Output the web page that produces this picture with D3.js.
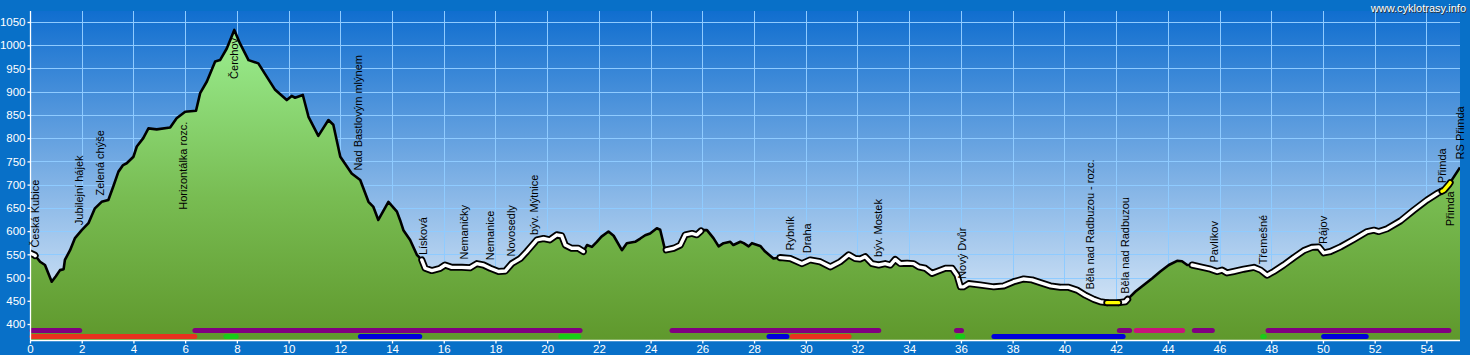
<!DOCTYPE html>
<html>
<head>
<meta charset="utf-8">
<script src="https://cdn.jsdelivr.net/npm/d3@7.9.0/dist/d3.min.js"></script>
<style>
  html, body { margin: 0; padding: 0; background: #0870c8; }
  svg { display: block; font-family: "Liberation Sans", Arial, sans-serif; }
</style>
</head>
<body>
<svg id="chart" width="1470" height="355"></svg>
<script>
// profile: distance (km) and elevation (m)
const profileKm = [0, 0.19, 0.39, 0.58, 0.84, 1.0, 1.16, 1.3, 1.35, 1.55, 1.74, 2.0, 2.26, 2.51, 2.77, 3.03, 3.22, 3.42, 3.6, 3.74,
  4.0, 4.13, 4.38, 4.58, 4.9, 5.42, 5.67, 6.0, 6.42, 6.58, 6.84, 7.16, 7.35, 7.61, 7.9, 8.12, 8.45, 8.83, 9.16, 9.48,
  9.93, 10.12, 10.25, 10.55, 10.77, 11.15, 11.54, 11.73, 12.0, 12.44, 12.77, 13.09, 13.28, 13.47, 13.86, 14.19, 14.31, 14.44, 14.7, 14.96,
  15.15, 15.28, 15.54, 15.86, 16.05, 16.31, 16.7, 17.02, 17.28, 17.54, 17.8, 18.12, 18.38, 18.63, 18.96, 19.21, 19.6, 19.86, 20.1, 20.37,
  20.56, 20.7, 20.95, 21.2, 21.4, 21.54, 21.73, 21.92, 22.1, 22.37, 22.57, 22.89, 23.08, 23.4, 23.6, 23.79, 23.98, 24.24, 24.37, 24.56,
  24.89, 25.15, 25.34, 25.6, 25.79, 25.98, 26.18, 26.43, 26.63, 26.82, 27.08, 27.2, 27.47, 27.6, 27.79, 27.92, 28.24, 28.43, 28.75, 29.01,
  29.4, 29.85, 30.17, 30.56, 30.95, 31.33, 31.66, 31.91, 32.1, 32.3, 32.56, 32.82, 33.07, 33.27, 33.46, 33.66, 33.92, 34.17, 34.37, 34.62,
  34.88, 35.07, 35.4, 35.66, 35.85, 35.98, 36.1, 36.3, 36.75, 37.27, 37.65, 38.04, 38.43, 38.75, 39.07, 39.46, 39.85, 40.17, 40.49, 40.81,
  41.14, 41.39, 41.64, 42.1, 42.36, 42.55, 42.75, 43.07, 43.39, 43.71, 44.04, 44.36, 44.55, 44.75, 44.94, 45.26, 45.65, 45.9, 46.1, 46.29,
  46.55, 46.94, 47.33, 47.59, 47.84, 48.1, 48.48, 48.87, 49.26, 49.58, 49.84, 50.03, 50.29, 50.68, 51.19, 51.71, 51.97, 52.16, 52.48, 53.0,
  53.51, 54.03, 54.42, 54.68, 54.88, 55.3];
const profileElev = [553, 548, 534, 527, 491, 503, 516, 518, 538, 559, 585, 602, 617, 649, 663, 667, 696, 728, 742, 746,
  760, 782, 800, 821, 819, 823, 843, 857, 859, 897, 922, 965, 968, 993, 1033, 1004, 968, 961, 932, 904,
  882, 891, 887, 893, 846, 805, 839, 829, 760, 724, 710, 663, 652, 624, 663, 642, 624, 602, 581, 549,
  538, 520, 515, 520, 527, 522, 522, 521, 530, 527, 520, 513, 514, 530, 541, 556, 581, 584, 581, 592,
  590, 570, 563, 563, 556, 570, 566, 577, 588, 599, 590, 559, 574, 577, 584, 591, 595, 606, 603, 559,
  563, 570, 592, 595, 592, 602, 602, 585, 567, 574, 577, 570, 577, 574, 567, 574, 568, 556, 541, 543,
  541, 530, 538, 534, 523, 534, 549, 541, 540, 545, 530, 527, 530, 527, 539, 530, 531, 530, 523, 520,
  509, 513, 520, 520, 505, 480, 480, 487, 484, 480, 482, 491, 497, 495, 489, 482, 479, 479, 473, 462,
  453, 448, 446, 446, 448, 459, 470, 484, 498, 513, 527, 536, 535, 527, 527, 523, 518, 513, 516, 510,
  513, 518, 522, 516, 505, 513, 527, 543, 558, 565, 566, 553, 556, 566, 582, 599, 602, 599, 605, 622,
  645, 667, 681, 688, 701, 737];

// surface sections along the route [from km, to km]
const whiteSections = [[0, 0.2], [15.15, 21.4], [24.6, 25.95], [29.0, 41.64], [42.1, 42.45], [44.94, 54.6]];
const yellowSections = [[41.64, 42.1], [54.6, 54.92]];

// place names
const placeNames = ["Česká Kubice", "Jubilejní hájek", "Zelená chýše", "Horizontálka rozc.", "Čerchov", "Nad Bastlovým mlýnem",
  "Lísková", "Nemaničky", "Nemanice", "Novosedly", "býv. Mýtnice", "Rybník", "Draha", "býv. Mostek", "Nový Dvůr",
  "Běla nad Radbuzou - rozc.", "Běla nad Radbuzou", "Pavlíkov", "Třemešné", "Rájov", "Přimda", "Přimda", "RS Přimda"];
const placeKm = [0.2, 1.9, 2.7, 5.9, 7.9, 12.7, 15.2, 16.8, 17.8, 18.6, 19.5, 29.4, 30.05, 32.8, 36.05,
  41.0, 42.36, 45.8, 47.7, 50.0, 54.6, 54.9, 55.3];
const placeSide = ["up", "up", "up", "down", "down", "up", "up", "up", "up", "up", "up", "up", "up", "up", "up",
  "up", "up", "up", "up", "up", "up", "down", "up"];

// route markings shown as strips under the profile
const markStart = [0, 6.3, 24.75, 35.75, 42.05, 42.7, 44.95, 47.8, 0, 7.5, 12.7, 20.45, 28.5, 29.4, 35.8, 37.2, 47.65, 49.95];
const markEnd = [2.0, 21.35, 32.9, 36.1, 42.6, 44.65, 45.8, 54.95, 6.45, 8.05, 15.15, 21.3, 29.35, 31.75, 36.15, 42.35, 47.75, 51.75];
const markType = ["purple", "purple", "purple", "purple", "purple", "magenta", "purple", "purple",
  "red", "green", "blue", "green", "blue", "red", "green", "blue", "green", "blue"];

const xTicks = d3.range(0, 55, 2);
const yTicks = d3.range(400, 1051, 50);

const markColor = { purple: "#800080", magenta: "#c8147a", red: "#e8321e", green: "#18cc18", blue: "#0000dc" };
const markRow = { purple: 0, magenta: 0, red: 1, green: 1, blue: 1 };

const plotLeft = 30, plotRight = 1460, plotTop = 11, plotBottom = 340;
const x = d3.scaleLinear().domain([0, 55.3]).range([plotLeft, plotRight]);
const y = d3.scaleLinear().domain([365.6, 1073.7]).range([plotBottom, plotTop]);
const elevAt = d3.scaleLinear().domain(profileKm).range(profileElev);

const profile = profileKm.map((k, i) => [k, profileElev[i]]);

const svg = d3.select('#chart');
const defs = svg.append('defs');

let bg = defs.append('linearGradient').attr('id', 'bg')
  .attr('gradientUnits', 'userSpaceOnUse').attr('x1', 0).attr('x2', 0).attr('y1', plotTop).attr('y2', plotBottom);
bg.append('stop').attr('offset', 0).attr('stop-color', '#106ecf');
bg.append('stop').attr('offset', 1).attr('stop-color', '#e8f1fa');

let grass = defs.append('linearGradient').attr('id', 'grass')
  .attr('gradientUnits', 'userSpaceOnUse').attr('x1', 0).attr('x2', 0).attr('y1', 25).attr('y2', plotBottom);
grass.append('stop').attr('offset', 0).attr('stop-color', '#9cf092');
grass.append('stop').attr('offset', 0.55).attr('stop-color', '#78bc52');
grass.append('stop').attr('offset', 1).attr('stop-color', '#5f982c');

defs.append('clipPath').attr('id', 'plot')
  .append('rect').attr('x', plotLeft).attr('y', plotTop)
  .attr('width', plotRight - plotLeft).attr('height', plotBottom - plotTop);

svg.append('rect').attr('width', 1470).attr('height', 355).attr('fill', '#0870c8');
svg.append('rect').attr('x', plotLeft).attr('y', plotTop)
  .attr('width', plotRight - plotLeft).attr('height', plotBottom - plotTop)
  .attr('fill', 'url(#bg)');

// grid
let grid = svg.append('g').attr('stroke', '#8fcbff').attr('stroke-width', 1);
yTicks.forEach((t) => {
  grid.append('line').attr('x1', plotLeft).attr('x2', plotRight)
    .attr('y1', Math.round(y(t)) + 0.5).attr('y2', Math.round(y(t)) + 0.5);
});
xTicks.filter((t) => t > 0).forEach((t) => {
  grid.append('line').attr('y1', plotTop).attr('y2', plotBottom)
    .attr('x1', Math.round(x(t)) + 0.5).attr('x2', Math.round(x(t)) + 0.5);
});

let plot = svg.append('g').attr('clip-path', 'url(#plot)');

// terrain
let area = d3.area().x((d) => x(d[0])).y0(plotBottom).y1((d) => y(d[1]));
plot.append('path').attr('d', area(profile)).attr('fill', 'url(#grass)');

let line = d3.line().x((d) => x(d[0])).y((d) => y(d[1]));
plot.append('path').attr('d', line(profile)).attr('fill', 'none')
  .attr('stroke', '#000').attr('stroke-width', 2.6).attr('stroke-linejoin', 'round');

function section(a, b) {
  let pts = [[a, elevAt(a)]];
  profile.forEach((p) => { if (p[0] > a && p[0] < b) pts.push(p); });
  pts.push([b, elevAt(b)]);
  return pts;
}

function drawSections(list, color) {
  list.forEach(([a, b]) => {
    plot.append('path').attr('d', line(section(a, b))).attr('fill', 'none').attr('stroke', '#000')
      .attr('stroke-width', 7).attr('stroke-linejoin', 'round').attr('stroke-linecap', 'round');
  });
  list.forEach(([a, b]) => {
    plot.append('path').attr('d', line(section(a, b))).attr('fill', 'none').attr('stroke', color)
      .attr('stroke-width', 3.4).attr('stroke-linejoin', 'round').attr('stroke-linecap', 'round');
  });
}
drawSections(whiteSections, '#fff');
drawSections(yellowSections, '#ffff00');

// route markings
markType.forEach((t, i) => {
  let yy = markRow[t] === 0 ? 330.5 : 336.5;
  svg.append('line')
    .attr('x1', x(markStart[i]) + 2).attr('x2', x(markEnd[i]) - 2)
    .attr('y1', yy).attr('y2', yy)
    .attr('stroke', markColor[t]).attr('stroke-width', 5).attr('stroke-linecap', 'round');
});

// axes
let yAxis = d3.axisLeft(y).tickValues(yTicks).tickFormat(d3.format('d'))
  .tickSize(3).tickSizeOuter(0).tickPadding(2);
let gy = svg.append('g').attr('transform', `translate(${plotLeft + 0.5},0)`).call(yAxis);
let xAxis = d3.axisBottom(x).tickValues(xTicks).tickFormat(d3.format('d'))
  .tickSize(3).tickSizeOuter(0).tickPadding(1);
let gx = svg.append('g').attr('transform', `translate(0,${plotBottom + 0.5})`).call(xAxis);
[gx, gy].forEach((g) => {
  g.selectAll('path, line').attr('stroke', '#fff').attr('stroke-width', 1.3);
  g.selectAll('text').attr('fill', '#fff').attr('font-size', 11.5)
    .attr('font-family', '"Liberation Sans", Arial, sans-serif');
});
gy.select('.domain').attr('d', `M0,${plotTop}V${plotBottom}`);
gx.select('.domain').attr('d', `M${plotLeft},0H${plotRight}`);

// place names
let names = svg.append('g').attr('font-size', 11).attr('fill', '#000');
placeNames.forEach((n, i) => {
  let px = x(placeKm[i]) + 4;
  let py = y(elevAt(Math.min(placeKm[i], 55.3)));
  if (placeSide[i] === 'up') {
    names.append('text').attr('transform', `translate(${px},${py - 8}) rotate(-90)`)
      .attr('text-anchor', 'start').text(n);
  } else {
    names.append('text').attr('transform', `translate(${px},${py + 8}) rotate(-90)`)
      .attr('text-anchor', 'end').text(n);
  }
});

// watermark
svg.append('text').attr('x', 1467).attr('y', 13).attr('text-anchor', 'end')
  .attr('font-size', 11).attr('fill', '#333').text('www.cyklotrasy.info');
svg.append('text').attr('x', 1466).attr('y', 12).attr('text-anchor', 'end')
  .attr('font-size', 11).attr('fill', '#fff').text('www.cyklotrasy.info');
</script>
</body>
</html>
